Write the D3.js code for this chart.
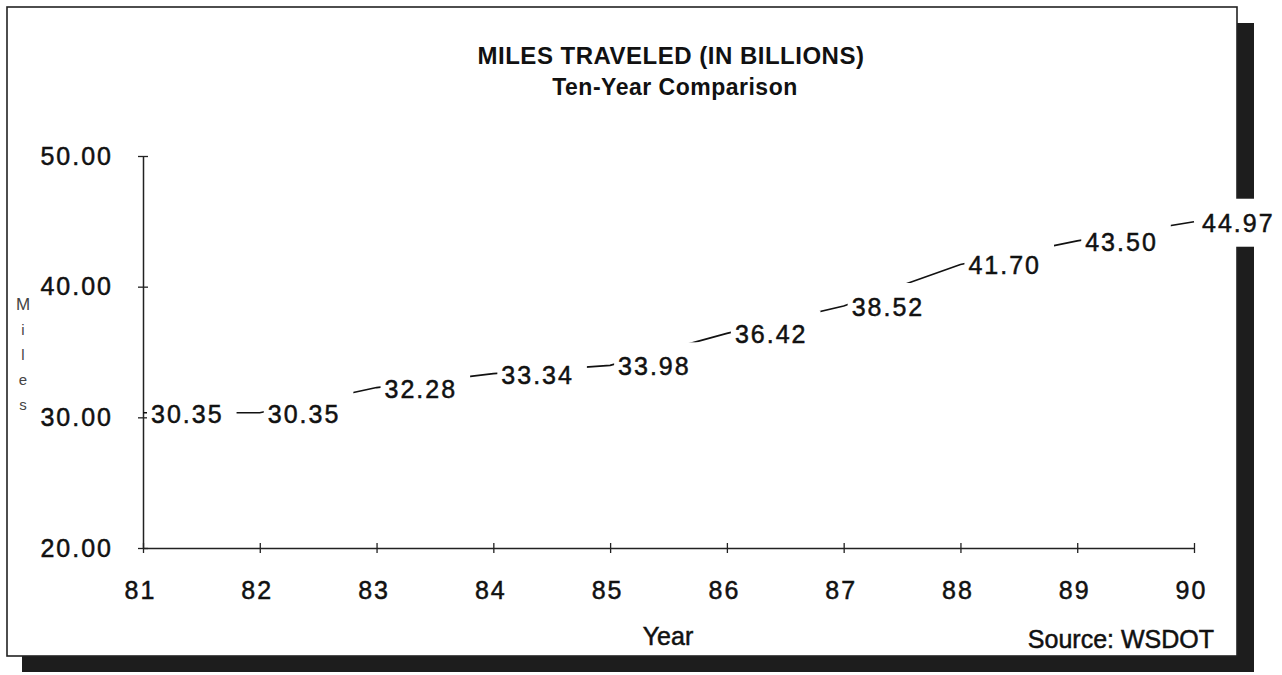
<!DOCTYPE html>
<html>
<head>
<meta charset="utf-8">
<script src="https://cdn.jsdelivr.net/npm/d3@7"></script>
<style>
  body { margin: 0; background: #fff; }
  svg text { font-family: "Liberation Sans", Arial, sans-serif; fill: #111; }
  .num { stroke: #111; stroke-width: 0.5px; }
</style>
</head>
<body>
<svg id="chart" width="1282" height="675"></svg>
<script>
const years = ['81', '82', '83', '84', '85', '86', '87', '88', '89', '90'];
const miles = [30.35, 30.35, 32.28, 33.34, 33.98, 36.42, 38.52, 41.70, 43.50, 44.97];
const yTicks = [20, 30, 40, 50];
const yTitle = ['M', 'i', 'l', 'e', 's'];

let svg = d3.select('#chart');

// drop shadow + frame
svg.append('rect').attr('x', 22).attr('y', 23).attr('width', 1232).attr('height', 649).attr('fill', '#1d1d1d');
svg.append('rect').attr('x', 7).attr('y', 7).attr('width', 1230).attr('height', 649)
   .attr('fill', '#fff').attr('stroke', '#222').attr('stroke-width', 1.6);

let x = d3.scalePoint().domain(years).range([143, 1194]);
let y = d3.scaleLinear().domain([20, 50]).range([548, 156]);

// x axis, ticks cross the line
let xAxis = svg.append('g').attr('transform', 'translate(0,548)')
  .call(d3.axisBottom(x).tickSize(5).tickSizeOuter(0).tickPadding(28));
xAxis.select('.domain').attr('stroke', '#222').attr('stroke-width', 1.5);
xAxis.selectAll('.tick line').attr('y1', -5).attr('stroke', '#222').attr('stroke-width', 1.3);
xAxis.selectAll('.tick text')
  .attr('class', 'num').attr('font-size', 25).attr('letter-spacing', 2).attr('dx', -3).attr('fill', '#111')
  .style('font-family', '"Liberation Sans", Arial, sans-serif');

// y axis
let yAxis = svg.append('g').attr('transform', 'translate(143,0)')
  .call(d3.axisLeft(y).tickValues(yTicks).tickFormat(d3.format('.2f')).tickSize(5).tickSizeOuter(0).tickPadding(25));
yAxis.select('.domain').attr('stroke', '#222').attr('stroke-width', 1.5);
yAxis.selectAll('.tick line').attr('x1', -5).attr('x2', 5).attr('stroke', '#222').attr('stroke-width', 1.3);
yAxis.selectAll('.tick text')
  .attr('class', 'num').attr('font-size', 25).attr('letter-spacing', 2).attr('fill', '#111')
  .style('font-family', '"Liberation Sans", Arial, sans-serif');

// y title, stacked letters
svg.append('g').selectAll('text').data(yTitle).join('text')
  .attr('x', 23).attr('y', (d, i) => 310 + i * 25)
  .attr('text-anchor', 'middle').attr('font-size', (d, i) => i === 0 ? 17 : 15).style('fill', '#444')
  .text(d => d);

let points = years.map((yr, i) => ({ year: yr, value: miles[i] }));

svg.append('path').datum(points)
  .attr('fill', 'none').attr('stroke', '#111').attr('stroke-width', 1.7)
  .attr('d', d3.line().x(d => x(d.year)).y(d => y(d.value)));

// value labels sit on opaque boxes that hide most of the line
let labels = svg.append('g');
points.forEach((d) => {
  let px = x(d.year), py = y(d.value);
  let box = labels.append('rect').attr('fill', '#fff');
  let t = labels.append('text').attr('class', 'num')
    .attr('x', px + 8).attr('y', py + 10)
    .attr('font-size', 25).attr('letter-spacing', 2)
    .text(d.value.toFixed(2));
  let w = t.node().getBBox().width;
  box.attr('x', px + 4).attr('y', py - 23).attr('width', w + 17).attr('height', 48);
});

svg.append('text').attr('x', 671).attr('y', 64).attr('text-anchor', 'middle')
  .attr('font-size', 24).attr('font-weight', 'bold').attr('letter-spacing', 0.5)
  .text('MILES TRAVELED (IN BILLIONS)');
svg.append('text').attr('x', 675).attr('y', 95).attr('text-anchor', 'middle')
  .attr('font-size', 23).attr('font-weight', 'bold').attr('letter-spacing', 0.5)
  .text('Ten-Year Comparison');

svg.append('text').attr('x', 668).attr('y', 645).attr('text-anchor', 'middle')
  .attr('font-size', 25).attr('class', 'num').attr('stroke-width', 0.3).text('Year');
svg.append('text').attr('x', 1214).attr('y', 648).attr('text-anchor', 'end')
  .attr('font-size', 25).attr('class', 'num').text('Source: WSDOT');
</script>
</body>
</html>
